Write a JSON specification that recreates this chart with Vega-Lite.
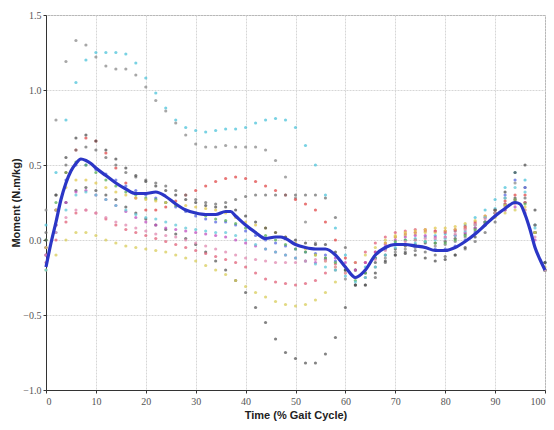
{
  "$schema": "https://vega.github.io/schema/vega-lite/v6.json",
  "width": 499,
  "height": 375,
  "autosize": {"type": "none"},
  "padding": {"left": 46, "top": 15, "right": 9, "bottom": 40},
  "background": "white",
  "config": {
    "view": {"stroke": "#9a9a9a", "strokeWidth": 1},
    "font": "Liberation Sans",
    "axis": {
      "domainColor": "#333333",
      "tickColor": "#333333",
      "tickSize": 3,
      "labelFont": "Liberation Sans Narrow",
      "labelFontSize": 10,
      "labelColor": "#555555",
      "gridColor": "#d6d6d6",
      "gridDash": [2, 1],
      "titleFont": "Liberation Sans",
      "titleFontWeight": "bold",
      "titleFontSize": 11,
      "titleColor": "#222222"
    }
  },
  "datasets": {
    "curves": [
      {"t":0,"s1":0.1,"s2":0.2,"s3":-0.1,"s4":-0.05,"s5":0.05,"s6":-0.2,"s7":-0.15,"s8":-0.1,"s9":-0.05,"s10":0.0,"s11":-0.05,"s12":-0.2,"s13":-0.1,"s14":0.0},
      {"t":2,"s1":0.45,"s2":0.8,"s3":0.1,"s4":0.2,"s5":0.3,"s6":-0.1,"s7":0.0,"s8":0.1,"s9":0.2,"s10":0.25,"s11":0.2,"s12":0.05,"s13":0.05,"s14":0.3},
      {"t":4,"s1":0.8,"s2":1.19,"s3":0.25,"s4":0.45,"s5":0.5,"s6":0.0,"s7":0.12,"s8":0.25,"s9":0.4,"s10":0.45,"s11":0.35,"s12":0.2,"s13":0.15,"s14":0.55},
      {"t":6,"s1":1.05,"s2":1.33,"s3":0.33,"s4":0.6,"s5":0.6,"s6":0.05,"s7":0.18,"s8":0.32,"s9":0.5,"s10":0.52,"s11":0.4,"s12":0.3,"s13":0.2,"s14":0.68},
      {"t":8,"s1":1.2,"s2":1.3,"s3":0.35,"s4":0.68,"s5":0.62,"s6":0.05,"s7":0.2,"s8":0.33,"s9":0.5,"s10":0.5,"s11":0.4,"s12":0.32,"s13":0.2,"s14":0.7},
      {"t":10,"s1":1.25,"s2":1.22,"s3":0.33,"s4":0.66,"s5":0.6,"s6":0.03,"s7":0.18,"s8":0.3,"s9":0.47,"s10":0.45,"s11":0.38,"s12":0.3,"s13":0.18,"s14":0.66},
      {"t":12,"s1":1.25,"s2":1.16,"s3":0.3,"s4":0.58,"s5":0.55,"s6":0.0,"s7":0.14,"s8":0.27,"s9":0.44,"s10":0.4,"s11":0.35,"s12":0.27,"s13":0.15,"s14":0.6},
      {"t":14,"s1":1.25,"s2":1.14,"s3":0.27,"s4":0.48,"s5":0.5,"s6":-0.02,"s7":0.1,"s8":0.23,"s9":0.4,"s10":0.36,"s11":0.32,"s12":0.23,"s13":0.12,"s14":0.54},
      {"t":16,"s1":1.24,"s2":1.14,"s3":0.22,"s4":0.38,"s5":0.45,"s6":-0.04,"s7":0.07,"s8":0.19,"s9":0.36,"s10":0.32,"s11":0.3,"s12":0.2,"s13":0.1,"s14":0.48},
      {"t":18,"s1":1.18,"s2":1.1,"s3":0.18,"s4":0.28,"s5":0.42,"s6":-0.05,"s7":0.05,"s8":0.15,"s9":0.33,"s10":0.3,"s11":0.28,"s12":0.17,"s13":0.08,"s14":0.43},
      {"t":20,"s1":1.08,"s2":1.02,"s3":0.14,"s4":0.2,"s5":0.4,"s6":-0.06,"s7":0.03,"s8":0.12,"s9":0.3,"s10":0.28,"s11":0.27,"s12":0.15,"s13":0.06,"s14":0.39},
      {"t":22,"s1":0.98,"s2":0.93,"s3":0.1,"s4":0.2,"s5":0.38,"s6":-0.07,"s7":0.01,"s8":0.1,"s9":0.28,"s10":0.27,"s11":0.26,"s12":0.14,"s13":0.04,"s14":0.36},
      {"t":24,"s1":0.88,"s2":0.86,"s3":0.07,"s4":0.22,"s5":0.36,"s6":-0.08,"s7":-0.01,"s8":0.08,"s9":0.25,"s10":0.25,"s11":0.25,"s12":0.12,"s13":0.03,"s14":0.33},
      {"t":26,"s1":0.8,"s2":0.78,"s3":0.04,"s4":0.26,"s5":0.33,"s6":-0.1,"s7":-0.03,"s8":0.07,"s9":0.22,"s10":0.23,"s11":0.24,"s12":0.1,"s13":0.02,"s14":0.3},
      {"t":28,"s1":0.75,"s2":0.7,"s3":0.01,"s4":0.3,"s5":0.3,"s6":-0.12,"s7":-0.05,"s8":0.06,"s9":0.19,"s10":0.2,"s11":0.23,"s12":0.08,"s13":0.0,"s14":0.27},
      {"t":30,"s1":0.73,"s2":0.64,"s3":-0.03,"s4":0.33,"s5":0.27,"s6":-0.14,"s7":-0.07,"s8":0.05,"s9":0.16,"s10":0.18,"s11":0.22,"s12":0.07,"s13":-0.02,"s14":0.25},
      {"t":32,"s1":0.72,"s2":0.62,"s3":-0.08,"s4":0.36,"s5":0.25,"s6":-0.17,"s7":-0.09,"s8":0.04,"s9":0.14,"s10":0.16,"s11":0.21,"s12":0.06,"s13":-0.04,"s14":0.23},
      {"t":34,"s1":0.73,"s2":0.62,"s3":-0.14,"s4":0.39,"s5":0.24,"s6":-0.2,"s7":-0.11,"s8":0.03,"s9":0.12,"s10":0.14,"s11":0.2,"s12":0.05,"s13":-0.06,"s14":0.22},
      {"t":36,"s1":0.74,"s2":0.63,"s3":-0.2,"s4":0.41,"s5":0.25,"s6":-0.23,"s7":-0.13,"s8":0.02,"s9":0.12,"s10":0.13,"s11":0.18,"s12":0.05,"s13":-0.08,"s14":0.22},
      {"t":38,"s1":0.74,"s2":0.62,"s3":-0.27,"s4":0.42,"s5":0.27,"s6":-0.27,"s7":-0.15,"s8":0.0,"s9":0.1,"s10":0.11,"s11":0.15,"s12":0.03,"s13":-0.1,"s14":0.2},
      {"t":40,"s1":0.75,"s2":0.62,"s3":-0.35,"s4":0.41,"s5":0.29,"s6":-0.31,"s7":-0.18,"s8":-0.02,"s9":0.06,"s10":0.08,"s11":0.12,"s12":0.0,"s13":-0.12,"s14":0.16},
      {"t":42,"s1":0.78,"s2":0.62,"s3":-0.45,"s4":0.39,"s5":0.3,"s6":-0.35,"s7":-0.22,"s8":-0.04,"s9":0.03,"s10":0.05,"s11":0.1,"s12":-0.03,"s13":-0.13,"s14":0.12},
      {"t":44,"s1":0.8,"s2":0.6,"s3":-0.55,"s4":0.36,"s5":0.3,"s6":-0.38,"s7":-0.26,"s8":-0.06,"s9":0.0,"s10":0.03,"s11":0.08,"s12":-0.06,"s13":-0.14,"s14":0.08},
      {"t":46,"s1":0.81,"s2":0.53,"s3":-0.66,"s4":0.33,"s5":0.3,"s6":-0.41,"s7":-0.28,"s8":-0.08,"s9":-0.02,"s10":0.0,"s11":0.05,"s12":-0.08,"s13":-0.15,"s14":0.05},
      {"t":48,"s1":0.8,"s2":0.42,"s3":-0.75,"s4":0.3,"s5":0.3,"s6":-0.43,"s7":-0.29,"s8":-0.1,"s9":-0.04,"s10":-0.03,"s11":0.02,"s12":-0.1,"s13":-0.15,"s14":0.02},
      {"t":50,"s1":0.75,"s2":0.28,"s3":-0.79,"s4":0.27,"s5":0.3,"s6":-0.44,"s7":-0.3,"s8":-0.12,"s9":-0.06,"s10":-0.06,"s11":-0.02,"s12":-0.12,"s13":-0.15,"s14":0.0},
      {"t":52,"s1":0.63,"s2":0.12,"s3":-0.82,"s4":0.24,"s5":0.3,"s6":-0.43,"s7":-0.29,"s8":-0.14,"s9":-0.08,"s10":-0.08,"s11":-0.06,"s12":-0.14,"s13":-0.14,"s14":-0.02},
      {"t":54,"s1":0.5,"s2":-0.02,"s3":-0.82,"s4":0.2,"s5":0.3,"s6":-0.4,"s7":-0.27,"s8":-0.15,"s9":-0.09,"s10":-0.1,"s11":-0.1,"s12":-0.16,"s13":-0.13,"s14":-0.03},
      {"t":56,"s1":0.3,"s2":-0.12,"s3":-0.76,"s4":0.12,"s5":0.28,"s6":-0.35,"s7":-0.22,"s8":-0.13,"s9":-0.1,"s10":-0.12,"s11":-0.14,"s12":-0.18,"s13":-0.14,"s14":-0.03},
      {"t":58,"s1":0.08,"s2":-0.2,"s3":-0.65,"s4":0.0,"s5":0.15,"s6":-0.28,"s7":-0.16,"s8":-0.12,"s9":-0.14,"s10":-0.15,"s11":-0.18,"s12":-0.2,"s13":-0.18,"s14":-0.08},
      {"t":60,"s1":-0.1,"s2":-0.26,"s3":-0.45,"s4":-0.12,"s5":-0.05,"s6":-0.2,"s7":-0.18,"s8":-0.15,"s9":-0.2,"s10":-0.2,"s11":-0.22,"s12":-0.24,"s13":-0.22,"s14":-0.2},
      {"t":62,"s1":-0.2,"s2":-0.3,"s3":-0.3,"s4":-0.2,"s5":-0.2,"s6":-0.15,"s7":-0.15,"s8":-0.2,"s9":-0.25,"s10":-0.27,"s11":-0.25,"s12":-0.28,"s13":-0.25,"s14":-0.3},
      {"t":64,"s1":-0.18,"s2":-0.25,"s3":-0.22,"s4":-0.15,"s5":-0.3,"s6":-0.1,"s7":-0.08,"s8":-0.15,"s9":-0.2,"s10":-0.22,"s11":-0.2,"s12":-0.25,"s13":-0.2,"s14":-0.3},
      {"t":66,"s1":-0.12,"s2":-0.18,"s3":-0.15,"s4":-0.08,"s5":-0.25,"s6":-0.05,"s7":-0.02,"s8":-0.08,"s9":-0.12,"s10":-0.12,"s11":-0.1,"s12":-0.18,"s13":-0.13,"s14":-0.22},
      {"t":68,"s1":-0.06,"s2":-0.12,"s3":-0.1,"s4":-0.02,"s5":-0.15,"s6":0.0,"s7":0.02,"s8":-0.03,"s9":-0.06,"s10":-0.05,"s11":-0.02,"s12":-0.1,"s13":-0.07,"s14":-0.14},
      {"t":70,"s1":-0.02,"s2":-0.08,"s3":-0.06,"s4":0.02,"s5":-0.1,"s6":0.02,"s7":0.05,"s8":0.0,"s9":-0.03,"s10":-0.01,"s11":0.03,"s12":-0.05,"s13":-0.03,"s14":-0.1},
      {"t":72,"s1":0.0,"s2":-0.06,"s3":-0.04,"s4":0.04,"s5":-0.08,"s6":0.03,"s7":0.06,"s8":0.02,"s9":-0.03,"s10":0.0,"s11":0.05,"s12":-0.03,"s13":-0.01,"s14":-0.09},
      {"t":74,"s1":0.01,"s2":-0.05,"s3":-0.03,"s4":0.05,"s5":-0.07,"s6":0.04,"s7":0.07,"s8":0.03,"s9":-0.04,"s10":0.0,"s11":0.06,"s12":-0.02,"s13":0.0,"s14":-0.1},
      {"t":76,"s1":0.02,"s2":-0.05,"s3":-0.02,"s4":0.06,"s5":-0.08,"s6":0.05,"s7":0.07,"s8":0.03,"s9":-0.05,"s10":-0.01,"s11":0.07,"s12":-0.01,"s13":0.01,"s14":-0.12},
      {"t":78,"s1":0.03,"s2":-0.04,"s3":-0.02,"s4":0.06,"s5":-0.1,"s6":0.05,"s7":0.06,"s8":0.02,"s9":-0.06,"s10":-0.02,"s11":0.08,"s12":0.0,"s13":0.01,"s14":-0.14},
      {"t":80,"s1":0.04,"s2":-0.03,"s3":-0.01,"s4":0.06,"s5":-0.11,"s6":0.06,"s7":0.05,"s8":0.02,"s9":-0.06,"s10":-0.02,"s11":0.08,"s12":0.01,"s13":0.02,"s14":-0.13},
      {"t":82,"s1":0.06,"s2":-0.01,"s3":0.01,"s4":0.07,"s5":-0.1,"s6":0.07,"s7":0.06,"s8":0.03,"s9":-0.04,"s10":0.0,"s11":0.09,"s12":0.03,"s13":0.04,"s14":-0.1},
      {"t":84,"s1":0.1,"s2":0.02,"s3":0.04,"s4":0.09,"s5":-0.06,"s6":0.08,"s7":0.08,"s8":0.05,"s9":0.0,"s10":0.03,"s11":0.11,"s12":0.06,"s13":0.07,"s14":-0.05},
      {"t":86,"s1":0.15,"s2":0.06,"s3":0.08,"s4":0.12,"s5":-0.01,"s6":0.1,"s7":0.11,"s8":0.08,"s9":0.05,"s10":0.07,"s11":0.13,"s12":0.1,"s13":0.1,"s14":0.02},
      {"t":88,"s1":0.2,"s2":0.11,"s3":0.12,"s4":0.16,"s5":0.05,"s6":0.12,"s7":0.15,"s8":0.12,"s9":0.12,"s10":0.12,"s11":0.16,"s12":0.15,"s13":0.14,"s14":0.1},
      {"t":90,"s1":0.27,"s2":0.18,"s3":0.18,"s4":0.2,"s5":0.12,"s6":0.15,"s7":0.2,"s8":0.16,"s9":0.2,"s10":0.18,"s11":0.2,"s12":0.21,"s13":0.18,"s14":0.2},
      {"t":92,"s1":0.35,"s2":0.28,"s3":0.24,"s4":0.26,"s5":0.2,"s6":0.18,"s7":0.24,"s8":0.2,"s9":0.3,"s10":0.23,"s11":0.23,"s12":0.28,"s13":0.22,"s14":0.32},
      {"t":94,"s1":0.45,"s2":0.38,"s3":0.28,"s4":0.3,"s5":0.26,"s6":0.2,"s7":0.27,"s8":0.22,"s9":0.4,"s10":0.27,"s11":0.25,"s12":0.35,"s13":0.24,"s14":0.45},
      {"t":96,"s1":0.4,"s2":0.35,"s3":0.25,"s4":0.3,"s5":0.28,"s6":0.2,"s7":0.25,"s8":0.18,"s9":0.35,"s10":0.24,"s11":0.22,"s12":0.32,"s13":0.2,"s14":0.5},
      {"t":98,"s1":0.1,"s2":0.1,"s3":0.05,"s4":0.05,"s5":0.1,"s6":0.05,"s7":0.05,"s8":0.0,"s9":0.05,"s10":0.05,"s11":0.05,"s12":0.08,"s13":0.02,"s14":0.2},
      {"t":100,"s1":-0.15,"s2":-0.2,"s3":-0.2,"s4":-0.2,"s5":-0.15,"s6":-0.18,"s7":-0.2,"s8":-0.2,"s9":-0.2,"s10":-0.2,"s11":-0.2,"s12":-0.2,"s13":-0.2,"s14":-0.15}
    ],
    "mean": [
      {"t":0,"m":-0.18},{"t":1,"m":-0.02},{"t":2,"m":0.12},{"t":3,"m":0.27},{"t":4,"m":0.38},{"t":5,"m":0.46},{"t":6,"m":0.51},{"t":7,"m":0.54},{"t":8,"m":0.53},{"t":9,"m":0.51},{"t":10,"m":0.48},{"t":12,"m":0.43},{"t":14,"m":0.38},{"t":16,"m":0.34},{"t":18,"m":0.31},{"t":20,"m":0.31},{"t":22,"m":0.32},{"t":24,"m":0.29},{"t":26,"m":0.24},{"t":28,"m":0.2},{"t":30,"m":0.18},{"t":32,"m":0.17},{"t":34,"m":0.17},{"t":36,"m":0.19},{"t":37,"m":0.19},{"t":38,"m":0.16},{"t":40,"m":0.1},{"t":42,"m":0.05},{"t":44,"m":0.01},{"t":46,"m":0.02},{"t":47,"m":0.02},{"t":48,"m":0.01},{"t":50,"m":-0.03},{"t":52,"m":-0.05},{"t":54,"m":-0.06},{"t":56,"m":-0.06},{"t":58,"m":-0.1},{"t":60,"m":-0.18},{"t":62,"m":-0.25},{"t":64,"m":-0.2},{"t":66,"m":-0.1},{"t":68,"m":-0.05},{"t":70,"m":-0.03},{"t":72,"m":-0.03},{"t":74,"m":-0.04},{"t":76,"m":-0.05},{"t":78,"m":-0.07},{"t":80,"m":-0.07},{"t":82,"m":-0.05},{"t":84,"m":-0.01},{"t":86,"m":0.04},{"t":88,"m":0.1},{"t":90,"m":0.16},{"t":92,"m":0.21},{"t":94,"m":0.25},{"t":95,"m":0.24},{"t":96,"m":0.17},{"t":97,"m":0.07},{"t":98,"m":-0.05},{"t":99,"m":-0.13},{"t":100,"m":-0.2}
    ]
  },
  "layer": [
    {
      "data": {"name": "curves"},
      "transform": [
        {"fold": ["s1","s2","s3","s4","s5","s6","s7","s8","s9","s10","s11","s12","s13","s14"], "as": ["trial", "v"]}
      ],
      "mark": {"type": "point", "shape": "circle", "filled": true, "size": 10, "opacity": 0.75},
      "encoding": {
        "x": {
          "field": "t", "type": "quantitative",
          "scale": {"domain": [0, 100], "nice": false},
          "axis": {"values": [0,10,20,30,40,50,60,70,80,90,100], "grid": true, "title": "Time (% Gait Cycle)", "titlePadding": 3, "labelPadding": 3}
        },
        "y": {
          "field": "v", "type": "quantitative",
          "scale": {"domain": [-1, 1.5], "nice": false},
          "axis": {"values": [-1,-0.5,0,0.5,1,1.5], "grid": true, "title": "Moment (N.m/kg)", "titlePadding": 1, "labelPadding": 2}
        },
        "color": {
          "field": "trial", "type": "nominal", "legend": null,
          "scale": {
            "domain": ["s1","s2","s3","s4","s5","s6","s7","s8","s9","s10","s11","s12","s13","s14"],
            "range": ["#4cc3d9","#8a8a8a","#5a5a5a","#e04848","#707070","#d8cc5a","#e06078","#c050c0","#5868e0","#58b058","#e0c850","#60c8d8","#e088b0","#505050"]
          }
        }
      }
    },
    {
      "data": {"name": "mean"},
      "mark": {"type": "line", "color": "#2b36c6", "strokeWidth": 3.2, "interpolate": "monotone"},
      "encoding": {
        "x": {"field": "t", "type": "quantitative"},
        "y": {"field": "m", "type": "quantitative"}
      }
    }
  ]
}
